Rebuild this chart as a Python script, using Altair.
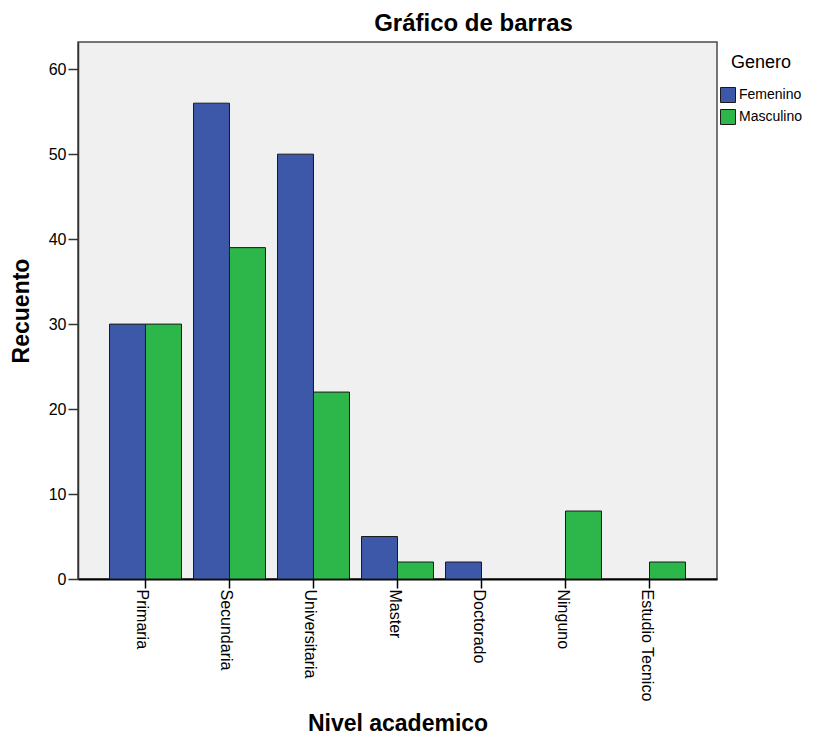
import altair as alt
import pandas as pd

niveles = ["Primaria", "Secundaria", "Universitaria", "Master", "Doctorado", "Ninguno", "Estudio Tecnico"]
generos = ["Femenino", "Masculino"]
femenino = [30, 56, 50, 5, 2, 0, 0]
masculino = [30, 39, 22, 2, 0, 8, 2]
colores = ["#3D57A9", "#2DB64A"]

rows = []
for i, n in enumerate(niveles):
    rows.append({"Nivel": n, "Genero": "Femenino", "Recuento": femenino[i]})
    rows.append({"Nivel": n, "Genero": "Masculino", "Recuento": masculino[i]})
df = pd.DataFrame(rows)

FONT = "Liberation Sans"

chart = (
    alt.Chart(df)
    .transform_filter("datum.Recuento > 0")
    .mark_bar(stroke="#1a1a1a", strokeWidth=1)
    .encode(
        x=alt.X(
            "Nivel:N",
            sort=niveles,
            scale=alt.Scale(paddingInner=0.143, paddingOuter=0.375),
            axis=alt.Axis(
                title="Nivel academico",
                titleFont=FONT,
                titleFontSize=23,
                titleFontWeight="bold",
                titleColor="#000000",
                titleY=151,
                titleBaseline="alphabetic",
                labelAngle=90,
                labelFont=FONT,
                labelFontSize=16,
                labelColor="#000000",
                labelPadding=1,
                labelOffset=-3,
                labelLimit=300,
                tickSize=9,
                tickWidth=1.5,
                tickColor="#000000",
                domainColor="#000000",
                domainWidth=2,
                grid=False,
            ),
        ),
        xOffset=alt.XOffset("Genero:N", sort=generos, scale=alt.Scale(paddingInner=0, paddingOuter=0)),
        y=alt.Y(
            "Recuento:Q",
            scale=alt.Scale(domain=[0, 63.2], nice=False, zero=True),
            axis=alt.Axis(
                title="Recuento",
                titleFont=FONT,
                titleFontSize=23,
                titleFontWeight="bold",
                titleColor="#000000",
                titleX=-50,
                titleBaseline="alphabetic",
                values=[0, 10, 20, 30, 40, 50, 60],
                labelFont=FONT,
                labelFontSize=16,
                labelColor="#000000",
                labelPadding=2,
                tickSize=10,
                tickWidth=1.5,
                tickColor="#333333",
                domainColor="#333333",
                domainWidth=1.5,
                grid=False,
            ),
        ),
        color=alt.Color(
            "Genero:N",
            sort=generos,
            scale=alt.Scale(domain=generos, range=colores),
            legend=alt.Legend(
                title="Genero",
                orient="none",
                legendX=642,
                legendY=12,
                padding=0,
                titleFont=FONT,
                titleFontSize=18,
                titleFontWeight="normal",
                titleColor="#000000",
                titleAnchor="middle",
                titlePadding=15,
                labelFont=FONT,
                labelFontSize=14,
                labelColor="#000000",
                labelOffset=3,
                labelLimit=200,
                symbolType="square",
                symbolSize=225,
                symbolStrokeColor="#1a1a1a",
                symbolStrokeWidth=1,
                rowPadding=2,
            ),
        ),
    )
    .properties(
        width=639,
        height=537,
        background="#FFFFFF",
        title=alt.TitleParams(
            "Gráfico de barras",
            font=FONT,
            fontSize=24,
            fontWeight="bold",
            color="#000000",
            anchor="middle",
            frame="group",
            dx=76,
            offset=6,
        ),
        autosize=alt.AutoSizeParams(type="none"),
        padding={"left": 70, "top": 34, "right": 88, "bottom": 158},
    )
    .configure_view(fill="#F0F0F0", stroke="#4A4A4A", strokeWidth=1.5)
)

chart.save("out.html", embed_options={"renderer": "svg", "actions": False})
